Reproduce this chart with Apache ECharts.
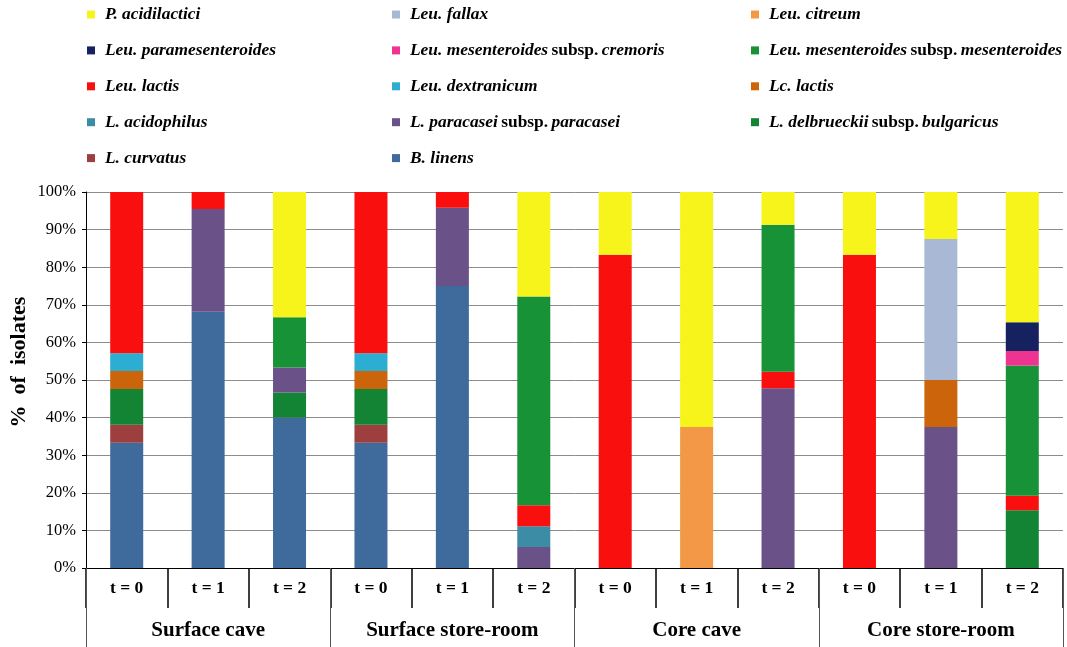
<!DOCTYPE html>
<html>
<head>
<meta charset="utf-8">
<script src="https://cdn.jsdelivr.net/npm/echarts@6/dist/echarts.min.js"></script>
<style>
  html, body { margin: 0; padding: 0; background: #fff; }
  #chart { width: 1067px; height: 647px; }
</style>
</head>
<body>
<div id="chart"></div>
<script>
var timeLabels = ["t = 0", "t = 1", "t = 2", "t = 0", "t = 1", "t = 2",
                  "t = 0", "t = 1", "t = 2", "t = 0", "t = 1", "t = 2"];
var groups = ["Surface cave", "Surface store-room", "Core cave", "Core store-room"];

// % of isolates, one value per bar (stacked bottom -> top)
var bLinens       = [33.33, 68.18, 40.00, 33.33, 75.00, 0, 0, 0, 0, 0, 0, 0];
var lCurvatus     = [4.76, 0, 0, 4.76, 0, 0, 0, 0, 0, 0, 0, 0];
var lDelbrueckii  = [9.52, 0, 6.67, 9.52, 0, 0, 0, 0, 0, 0, 0, 15.38];
var lParacasei    = [0, 27.27, 6.67, 0, 20.83, 5.56, 0, 0, 47.83, 0, 37.5, 0];
var lAcidophilus  = [0, 0, 0, 0, 0, 5.56, 0, 0, 0, 0, 0, 0];
var lcLactis      = [4.76, 0, 0, 4.76, 0, 0, 0, 0, 0, 0, 12.5, 0];
var leuDextranicum = [4.76, 0, 0, 4.76, 0, 0, 0, 0, 0, 0, 0, 0];
var leuLactis     = [42.86, 4.55, 0, 42.86, 4.17, 5.56, 83.33, 0, 4.35, 83.33, 0, 3.85];
var leuMesMes     = [0, 0, 13.33, 0, 0, 55.56, 0, 0, 39.13, 0, 0, 34.62];
var leuMesCrem    = [0, 0, 0, 0, 0, 0, 0, 0, 0, 0, 0, 3.85];
var leuParames    = [0, 0, 0, 0, 0, 0, 0, 0, 0, 0, 0, 7.69];
var leuCitreum    = [0, 0, 0, 0, 0, 0, 0, 37.5, 0, 0, 0, 0];
var leuFallax     = [0, 0, 0, 0, 0, 0, 0, 0, 0, 0, 37.5, 0];
var pAcidilactici = [0, 0, 33.33, 0, 0, 27.76, 16.67, 62.5, 8.69, 16.67, 12.5, 34.61];

var species = [
  { name: "B. linens", data: bLinens, color: "#3e6a9c", label: "{i|B. linens}" },
  { name: "L. curvatus", data: lCurvatus, color: "#9d3f3f", label: "{i|L. curvatus}" },
  { name: "L. delbrueckii subsp. bulgaricus", data: lDelbrueckii, color: "#128433", label: "{i|L. delbrueckii} {b|subsp.} {i|bulgaricus}" },
  { name: "L. paracasei subsp. paracasei", data: lParacasei, color: "#6a5187", label: "{i|L. paracasei} {b|subsp.} {i|paracasei}" },
  { name: "L. acidophilus", data: lAcidophilus, color: "#3b8ca4", label: "{i|L. acidophilus}" },
  { name: "Lc. lactis", data: lcLactis, color: "#cb640b", label: "{i|Lc. lactis}" },
  { name: "Leu. dextranicum", data: leuDextranicum, color: "#2baed1", label: "{i|Leu. dextranicum}" },
  { name: "Leu. lactis", data: leuLactis, color: "#fa0f0f", label: "{i|Leu. lactis}" },
  { name: "Leu. mesenteroides subsp. mesenteroides", data: leuMesMes, color: "#189236", label: "{i|Leu. mesenteroides} {b|subsp.} {i|mesenteroides}" },
  { name: "Leu. mesenteroides subsp. cremoris", data: leuMesCrem, color: "#ee3390", label: "{i|Leu. mesenteroides} {b|subsp.} {i|cremoris}" },
  { name: "Leu. paramesenteroides", data: leuParames, color: "#16215f", label: "{i|Leu. paramesenteroides}" },
  { name: "Leu. citreum", data: leuCitreum, color: "#f29847", label: "{i|Leu. citreum}" },
  { name: "Leu. fallax", data: leuFallax, color: "#a9b9d5", label: "{i|Leu. fallax}" },
  { name: "P. acidilactici", data: pAcidilactici, color: "#f6f41a", label: "{i|P. acidilactici}" }
];

var legendCols = [
  ["P. acidilactici", "Leu. paramesenteroides", "Leu. lactis", "L. acidophilus", "L. curvatus"],
  ["Leu. fallax", "Leu. mesenteroides subsp. cremoris", "Leu. dextranicum", "L. paracasei subsp. paracasei", "B. linens"],
  ["Leu. citreum", "Leu. mesenteroides subsp. mesenteroides", "Lc. lactis", "L. delbrueckii subsp. bulgaricus"]
];
var legendLeft = [82, 387, 746];

var font = "'Liberation Serif', 'Times New Roman', serif";
var labelMap = {};
species.forEach(function (s) { labelMap[s.name] = s.label; });

function makeLegend(names, left) {
  return {
    orient: "vertical",
    left: left,
    top: 1,
    itemWidth: 8,
    itemHeight: 8,
    itemGap: 18.9,
    icon: "rect",
    selectedMode: false,
    data: names,
    formatter: function (n) { return labelMap[n]; },
    textStyle: {
      padding: [0, 0, 0, 5],
      rich: {
        i: { fontFamily: font, fontSize: 17.4, fontWeight: "bold", fontStyle: "italic", color: "#000", lineHeight: 20 },
        b: { fontFamily: font, fontSize: 17.4, fontWeight: "bold", color: "#000", lineHeight: 20 }
      }
    }
  };
}

var chart = echarts.init(document.getElementById("chart"));
var option = {
  animation: false,
  legend: legendCols.map(function (c, k) { return makeLegend(c, legendLeft[k]); }),
  grid: { left: 86, right: 4, top: 192, bottom: 79, containLabel: false, outerBoundsMode: "none" },
  xAxis: [
    {
      type: "category",
      data: timeLabels,
      position: "bottom",
      axisLine: { lineStyle: { color: "#000", width: 1 } },
      axisTick: { show: true, interval: 0, length: 40, lineStyle: { color: "#000", width: 1.5 } },
      axisLabel: { interval: 0, margin: 11, fontFamily: font, fontSize: 17.5, fontWeight: "bold", color: "#000" }
    },
    {
      type: "category",
      data: groups,
      position: "bottom",
      axisLine: { show: false },
      axisTick: { show: true, interval: 0, length: 80, lineStyle: { color: "#555", width: 1 } },
      axisLabel: { interval: 0, margin: 52, fontFamily: font, fontSize: 21, fontWeight: "bold", color: "#000" }
    }
  ],
  yAxis: {
    type: "value",
    min: 0,
    max: 100,
    interval: 10,
    name: "%  of  isolates",
    nameLocation: "middle",
    nameGap: 56,
    nameMoveOverlap: false,
    nameTextStyle: { fontFamily: font, fontSize: 22, fontWeight: "bold", color: "#000", padding: [0, 0, 0, 36] },
    axisLine: { show: true, lineStyle: { color: "#000", width: 1 } },
    axisTick: { show: true, length: 4, lineStyle: { color: "#000" } },
    axisLabel: { formatter: "{value}%", margin: 10, fontFamily: font, fontSize: 16.5, color: "#000" },
    splitLine: { lineStyle: { color: "#8c8c8c", width: 1 } }
  },
  series: species.map(function (s) {
    return {
      name: s.name,
      type: "bar",
      stack: "total",
      xAxisIndex: 0,
      barWidth: 33,
      itemStyle: { color: s.color },
      data: s.data
    };
  })
};
chart.setOption(option);
</script>
</body>
</html>
